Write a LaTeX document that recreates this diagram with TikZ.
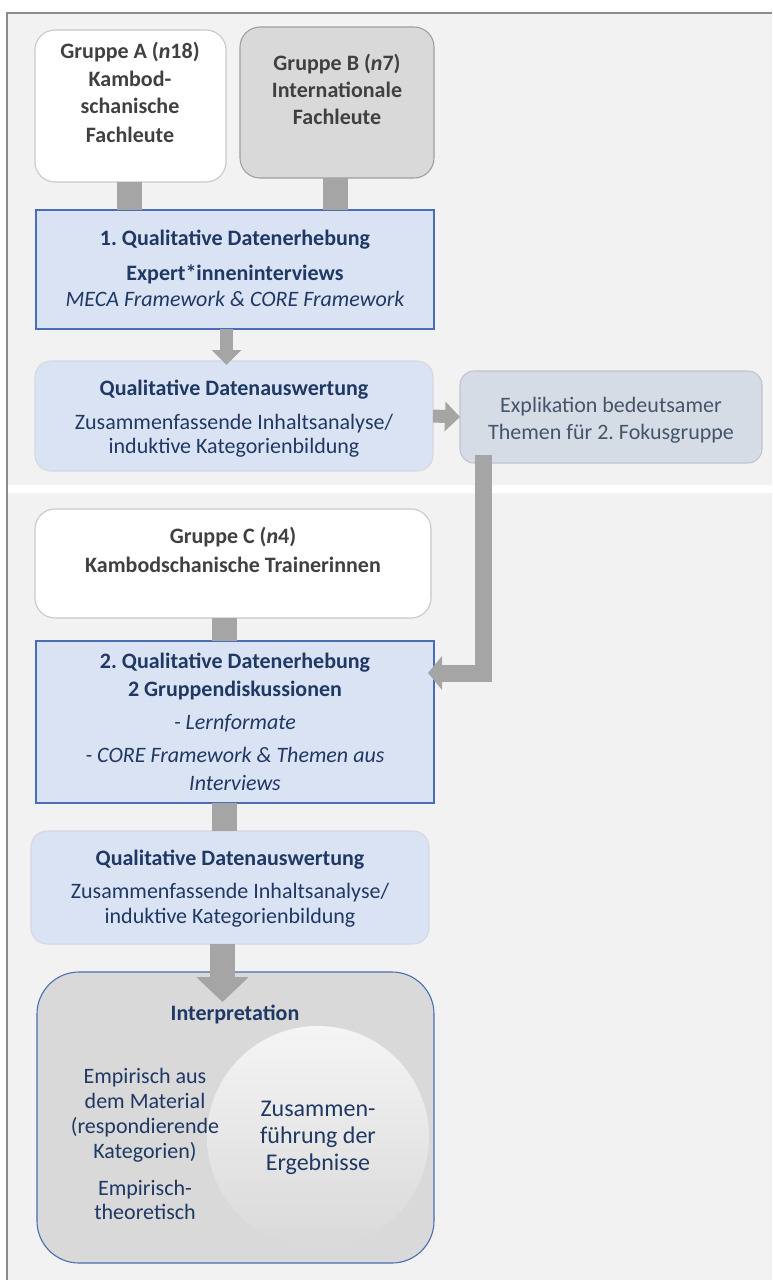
\documentclass[tikz,border=0pt]{standalone}
\usepackage{fontspec}
\setmainfont{Carlito}
\usetikzlibrary{arrows.meta}
\definecolor{panel}{HTML}{F2F2F2}
\definecolor{framec}{HTML}{8C8C8C}
\definecolor{conn}{HTML}{A5A5A5}
\definecolor{lblue}{HTML}{DAE3F3}
\definecolor{bblue}{HTML}{4A6DB3}
\definecolor{lgray}{HTML}{C9C9C9}
\definecolor{mgray}{HTML}{D9D9D9}
\definecolor{dgray}{HTML}{A0A0A0}
\definecolor{slate}{HTML}{D6DCE5}
\definecolor{slateb}{HTML}{BFC5CE}
\definecolor{qdab}{HTML}{D3D9E2}
\definecolor{navy}{HTML}{1F3864}
\definecolor{greyt}{HTML}{404040}
\definecolor{slatet}{HTML}{44546A}
\frenchspacing
\begin{document}
\begin{tikzpicture}[x=1pt,y=-1pt,
  shapebox/.style={anchor=north west, inner sep=0pt, outer sep=0pt, line width=1.1pt},
  grpbox/.style={shapebox, rounded corners=20pt},
  bluebox/.style={shapebox, fill=lblue, draw=bblue, line width=1.3pt},
  qdabox/.style={shapebox, fill=lblue, draw=qdab, rounded corners=16pt},
  txt/.style={anchor=base, inner sep=0pt, font=\fontsize{22}{26}\selectfont},
  btxt/.style={txt, font=\bfseries\fontsize{22}{26}\selectfont},
  itxt/.style={txt, font=\itshape\fontsize{22}{26}\selectfont},
  bar/.style={draw=conn, line width=25pt},
  arr/.style={draw=conn, line width=13pt, -{Triangle[width=29pt,length=15pt]}},
  elbowarr/.style={draw=conn, line width=17pt, line join=miter, -{Triangle[width=33pt,length=14pt]}},
  bigarr/.style={draw=conn, line width=25pt, -{Triangle[width=51pt,length=25pt]}}
]
\useasboundingbox (0,0) rectangle (772,1280);
% background panels
\fill[white] (0,0) rectangle (772,1280);
\fill[panel] (7,13) rectangle (772,485);
\fill[panel] (7,493) rectangle (772,1280);
\draw[framec, line width=1.4pt] (772,13) -- (7,13) -- (7,1280);

% boxes
\node[grpbox, fill=white, draw=lgray, minimum width=191pt, minimum height=152pt] (grA) at (35,30) {};
\node[grpbox, fill=mgray, draw=dgray, minimum width=194pt, minimum height=151pt] (grB) at (240,27) {};
\node[bluebox, minimum width=398pt, minimum height=119pt] (erh1) at (36,210) {};
\node[qdabox, minimum width=398pt, minimum height=110pt] (qda1) at (35,361) {};
\node[shapebox, fill=slate, draw=slateb, rounded corners=14pt, minimum width=302pt, minimum height=92pt] (expl) at (460,371) {};
\node[grpbox, fill=white, draw=lgray, minimum width=396pt, minimum height=109pt] (grC) at (35,509) {};
\node[bluebox, minimum width=398pt, minimum height=162pt] (erh2) at (36,641) {};
\node[qdabox, minimum width=398pt, minimum height=113pt] (qda2) at (31,831) {};
\node[shapebox, fill=mgray, draw=bblue, rounded corners=42pt, line width=1.1pt, minimum width=397pt, minimum height=291pt] (interp) at (37,972) {};
\node[circle, inner sep=0pt, minimum size=222pt, top color=white!96!black, bottom color=black!15] (ball) at (318,1137) {};

% connectors
\draw[bar] ([xshift=-1pt]grA.south) -- ([xshift=-1pt]grA.south |- erh1.north);
\draw[bar] ([xshift=-1.5pt]grB.south) -- ([xshift=-1.5pt]grB.south |- erh1.north);
\draw[arr] ([xshift=-8.5pt]erh1.south) -- ([xshift=-8.5pt,yshift=-4pt]erh1.south |- qda1.north);
\draw[arr] (qda1.east) -- (expl.west);
\draw[elbowarr] ([xshift=23.5pt,yshift=8pt]expl.south west) |- ([xshift=-6pt,yshift=49pt]erh2.east);
\draw[bar] ([xshift=-8.5pt]grC.south) -- ([xshift=-8.5pt]grC.south |- erh2.north);
\draw[bar] ([xshift=-10.5pt]erh2.south) -- ([xshift=-10.5pt]erh2.south |- qda2.north);
\draw[bigarr] ([xshift=-7.5pt]qda2.south) -- ([xshift=-13pt,yshift=-30pt]interp.north);

% texts
\node[btxt, greyt] (tA1) at (130,58) {Gruppe A (\textit{n}18)};
\node[btxt, greyt] (tA2) at (130,86) {Kambod-};
\node[btxt, greyt] (tA3) at (130,113) {schanische};
\node[btxt, greyt] (tA4) at (130,142) {Fachleute};

\node[btxt, greyt] (tB1) at (337,70) {Gruppe B (\textit{n}7)};
\node[btxt, greyt] (tB2) at (337,97) {Internationale};
\node[btxt, greyt] (tB3) at (337,124) {Fachleute};

\node[btxt, navy] (t11) at (235,245) {1. Qualitative Datenerhebung};
\node[btxt, navy] (t12) at (235,280) {Expert*inneninterviews};
\node[itxt, navy] (t13) at (235,306) {MECA Framework \& CORE Framework};

\node[btxt, navy] (tq11) at (234,395) {Qualitative Datenauswertung};
\node[txt, navy] (tq12) at (234,429) {Zusammenfassende Inhaltsanalyse/};
\node[txt, navy] (tq13) at (234,453) {induktive Kategorienbildung};

\node[txt, slatet] (te1) at (611,412) {Explikation bedeutsamer};
\node[txt, slatet] (te2) at (611,439) {Themen für 2. Fokusgruppe};

\node[btxt, greyt] (tC1) at (233,543) {Gruppe C (\textit{n}4)};
\node[btxt, greyt] (tC2) at (233,572) {Kambodschanische Trainerinnen};

\node[btxt, navy] (t21) at (235,668) {2. Qualitative Datenerhebung};
\node[btxt, navy] (t22) at (235,696) {2 Gruppendiskussionen};
\node[itxt, navy] (t23) at (235,729) {- Lernformate};
\node[itxt, navy] (t24) at (235,762) {- CORE Framework \& Themen aus};
\node[itxt, navy] (t25) at (235,790) {Interviews};

\node[btxt, navy] (tq21) at (230,865) {Qualitative Datenauswertung};
\node[txt, navy] (tq22) at (230,898) {Zusammenfassende Inhaltsanalyse/};
\node[txt, navy] (tq23) at (230,923) {induktive Kategorienbildung};

\node[btxt, navy] (ti0) at (235,1020) {Interpretation};
\node[txt, navy] (ti1) at (145,1083) {Empirisch aus};
\node[txt, navy] (ti2) at (145,1108) {dem Material};
\node[txt, navy] (ti3) at (145,1133) {(respondierende};
\node[txt, navy] (ti4) at (145,1158) {Kategorien)};
\node[txt, navy] (ti5) at (145,1195) {Empirisch-};
\node[txt, navy] (ti6) at (145,1219) {theoretisch};

\node[txt, navy, font=\fontsize{24}{28}\selectfont] (tz1) at (318,1116) {Zusammen-};
\node[txt, navy, font=\fontsize{24}{28}\selectfont] (tz2) at (318,1143) {führung der};
\node[txt, navy, font=\fontsize{24}{28}\selectfont] (tz3) at (318,1170) {Ergebnisse};
\end{tikzpicture}
\end{document}
